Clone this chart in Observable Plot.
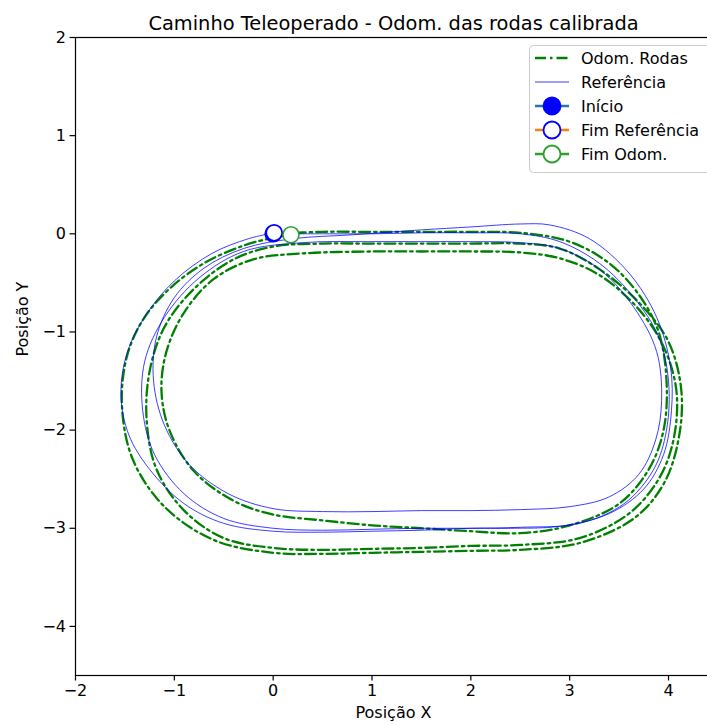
<!DOCTYPE html>
<html><head><meta charset="utf-8">
<script src="https://cdn.jsdelivr.net/npm/d3@7"></script>
<script src="https://cdn.jsdelivr.net/npm/@observablehq/plot@0.6"></script>
<style>
html,body{margin:0;padding:0;background:#fff;overflow:hidden;}
#wrap{position:relative;width:707px;height:725px;overflow:hidden;}
#chart{position:absolute;left:0;top:0;width:720px;}
#chart svg{max-width:none !important;}
#legend{position:absolute;left:0;top:0;}
</style></head>
<body><div id="wrap"><div id="chart"></div><svg id="legend" width="707" height="725"></svg></div>
<script>
// ---- data ----
const title = "Caminho Teleoperado - Odom. das rodas calibrada";
const xLabel = "Posição X";
const yLabel = "Posição Y";
const xTicks = [-2, -1, 0, 1, 2, 3, 4];
const yTicks = [-4, -3, -2, -1, 0, 1, 2];

const odomLap1 = [[0,0],[0.5,0.02],[1,0.02],[1.5,0.02],[2,0.02],[2.5,0.01],[3.0,-0.08],[3.4,-0.3],[3.7,-0.62],[3.9,-1.0],[3.98,-1.5],[3.95,-2.0],[3.8,-2.4],[3.5,-2.75],[3.0,-2.97],[2.5,-3.05],[2,-3.03],[1.5,-3.0],[1,-2.97],[0.5,-2.92],[0,-2.86],[-0.4,-2.72],[-0.8,-2.42],[-1.05,-2.0],[-1.13,-1.6],[-1.08,-1.2],[-0.9,-0.8],[-0.6,-0.46],[-0.2,-0.26],[0.3,-0.2],[1,-0.18]];
const odomLap2 = [[1.5,-0.18],[2,-0.18],[2.5,-0.19],[2.9,-0.25],[3.3,-0.42],[3.7,-0.77],[3.95,-1.15],[4.08,-1.6],[4.05,-2.1],[3.9,-2.5],[3.6,-2.85],[3.1,-3.1],[2.5,-3.17],[2,-3.18],[1.5,-3.2],[1,-3.21],[0.5,-3.22],[0,-3.2],[-0.5,-3.1],[-0.9,-2.82],[-1.18,-2.4],[-1.28,-1.9],[-1.25,-1.4],[-1.1,-0.95],[-0.8,-0.56],[-0.4,-0.26],[0,-0.13],[0.5,-0.1],[1,-0.1]];
const odomLap3 = [[1.5,-0.1],[2,-0.1],[2.5,-0.1],[2.9,-0.15],[3.3,-0.36],[3.7,-0.7],[4.0,-1.1],[4.13,-1.6],[4.1,-2.1],[3.95,-2.55],[3.65,-2.9],[3.1,-3.15],[2.5,-3.22],[2,-3.23],[1.5,-3.24],[1,-3.25],[0.5,-3.26],[0,-3.25],[-0.6,-3.12],[-1.1,-2.78],[-1.42,-2.3],[-1.53,-1.75],[-1.48,-1.25],[-1.32,-0.88],[-1.06,-0.57],[-0.7,-0.3],[-0.3,-0.12],[0,-0.04],[0.18,-0.01]];

const refLap1 = [[0,0],[0.5,0.0],[1,0.0],[1.5,0.01],[2,0.01],[2.5,0.0],[2.9,-0.08],[3.3,-0.3],[3.65,-0.65],[3.9,-1.05],[4.0,-1.5],[3.98,-2.0],[3.85,-2.4],[3.55,-2.75],[3.1,-2.95],[2.5,-2.99],[2,-3.0],[1.5,-3.0],[1,-3.01],[0.5,-3.02],[0,-3.0],[-0.5,-2.9],[-0.9,-2.65],[-1.2,-2.25],[-1.32,-1.8],[-1.3,-1.3],[-1.1,-0.85],[-0.75,-0.45],[-0.3,-0.18],[0.3,-0.09],[1,-0.08]];
const refLap2 = [[1.5,-0.08],[2,-0.08],[2.5,-0.09],[2.9,-0.15],[3.3,-0.36],[3.65,-0.75],[3.88,-1.2],[3.93,-1.7],[3.87,-2.1],[3.7,-2.45],[3.4,-2.68],[3.0,-2.78],[2.5,-2.81],[2,-2.82],[1.5,-2.82],[1,-2.83],[0.5,-2.83],[0,-2.8],[-0.45,-2.65],[-0.85,-2.35],[-1.1,-1.95],[-1.21,-1.5],[-1.18,-1.05],[-1.0,-0.65],[-0.7,-0.35],[-0.3,-0.15],[0.2,-0.05],[0.8,-0.01],[1.5,0.04],[2,0.07],[2.5,0.1]];
const refLap3 = [[2.8,0.09],[3.2,-0.05],[3.6,-0.4],[3.88,-0.85],[4.02,-1.35],[4.03,-1.8],[3.95,-2.25],[3.75,-2.6],[3.4,-2.85],[2.9,-2.98],[2.4,-3.0],[2,-3.0],[1.5,-3.02],[1,-3.03],[0.5,-3.04],[0,-3.03],[-0.5,-2.95],[-0.9,-2.75],[-1.25,-2.4],[-1.46,-2.05],[-1.54,-1.65],[-1.48,-1.22],[-1.29,-0.83],[-1.0,-0.48],[-0.62,-0.2],[-0.25,-0.05],[0.01,0.01]];

const startPoint = [0, 0];
const endRef = [0.01, 0.01];
const endOdom = [0.18, -0.01];

const legendLabels = ["Odom. Rodas", "Referência", "Início", "Fim Referência", "Fim Odom."];

// ---- chart ----
const odomPath = odomLap1.concat(odomLap2, odomLap3);
const refPath = refLap1.concat(refLap2, refLap3);
const FONT = "DejaVu Sans, sans-serif";

const chart = Plot.plot({
  width: 720, height: 725,
  marginLeft: 75, marginRight: 9, marginTop: 37, marginBottom: 50,
  style: {fontFamily: FONT, fontSize: "16px", color: "#000", background: "white", overflow: "visible", maxWidth: "none"},
  x: {domain: [-2, 4.435], label: null},
  y: {domain: [-4.5, 2], label: null},
  marks: [
    Plot.line(odomPath, {x: d => d[0], y: d => d[1], stroke: "#008000", strokeWidth: 2.3,
      strokeDasharray: "11,4,2.5,4", curve: "catmull-rom"}),
    Plot.line(refPath, {x: d => d[0], y: d => d[1], stroke: "#0000ff", strokeWidth: 0.9,
      strokeOpacity: 0.85, curve: "catmull-rom"}),
    Plot.dot([startPoint], {x: d => d[0], y: d => d[1], r: 8, fill: "#0000ff", stroke: "#0000ff", strokeWidth: 1.6}),
    Plot.dot([endRef], {x: d => d[0], y: d => d[1], r: 8, fill: "white", stroke: "#0000ff", strokeWidth: 1.8}),
    Plot.dot([endOdom], {x: d => d[0], y: d => d[1], r: 8, fill: "white", stroke: "#2ca02c", strokeWidth: 1.6}),
    Plot.frame({stroke: "#000", strokeWidth: 1.2}),
    Plot.axisX({ticks: xTicks, tickSize: 5.5, tickPadding: 4, strokeWidth: 1.2, fontSize: 16, label: null, tickFormat: d3.format("d")}),
    Plot.axisY({ticks: yTicks, tickSize: 5.5, tickPadding: 4, strokeWidth: 1.2, fontSize: 16, label: null, tickFormat: d3.format("d")}),
    Plot.text([title], {frameAnchor: "top", dy: -21, fontSize: 19.4, text: d => d}),
    Plot.text([xLabel], {frameAnchor: "bottom", dy: 42, fontSize: 16, text: d => d}),
    Plot.text([yLabel], {frameAnchor: "left", dx: -53, rotate: -90, fontSize: 16, text: d => d})
  ]
});
document.getElementById("chart").appendChild(chart);

// ---- legend ----
const lg = d3.select("#legend");
lg.append("rect").attr("x", 529.5).attr("y", 45.5).attr("width", 190).attr("height", 127)
  .attr("rx", 4).attr("fill", "white").attr("fill-opacity", 0.8).attr("stroke", "#cccccc");
const rowY = [58, 82, 106, 130, 154];
const handles = [
  {line: "#008000", dash: "11,4,2.5,4", w: 2.3},
  {line: "#0000ff", dash: null, w: 0.9, op: 0.85},
  {line: "#1f77b4", w: 2.3, mFill: "#0000ff", mStroke: "#0000ff"},
  {line: "#ff7f0e", w: 2.3, mFill: "white", mStroke: "#0000ff"},
  {line: "#2ca02c", w: 2.3, mFill: "white", mStroke: "#2ca02c"}
];
legendLabels.forEach((lab, i) => {
  const h = handles[i], y = rowY[i];
  lg.append("line").attr("x1", 535).attr("x2", 569).attr("y1", y).attr("y2", y)
    .attr("stroke", h.line).attr("stroke-width", h.w).attr("stroke-opacity", h.op || 1)
    .attr("stroke-dasharray", h.dash);
  if (h.mFill) lg.append("circle").attr("cx", 552).attr("cy", y).attr("r", 8.5)
    .attr("fill", h.mFill).attr("stroke", h.mStroke).attr("stroke-width", 1.8);
  lg.append("text").attr("x", 581).attr("y", y).attr("dy", "0.35em")
    .attr("font-family", FONT).attr("font-size", 16).attr("fill", "#000").text(lab);
});
</script></body></html>
